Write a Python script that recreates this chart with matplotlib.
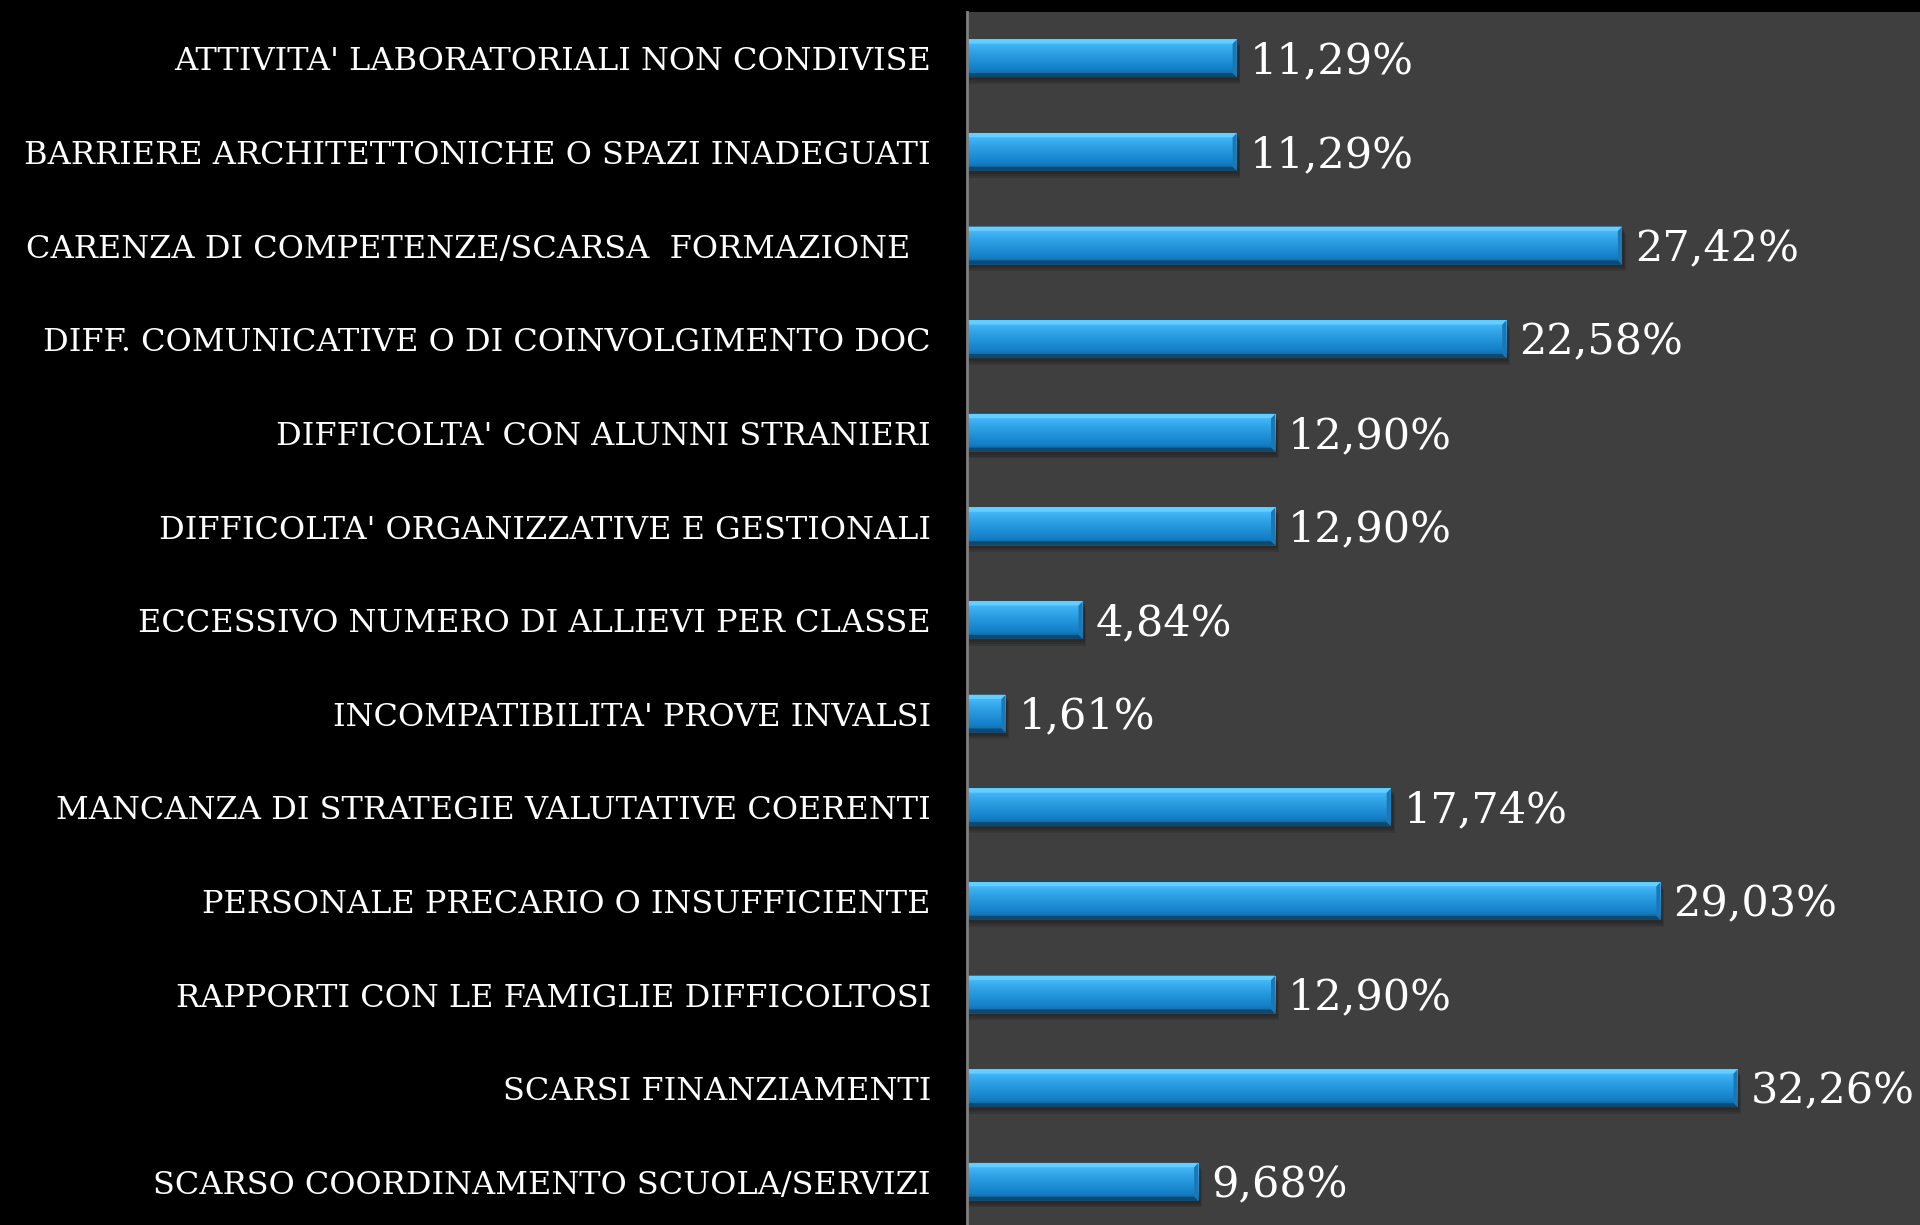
import matplotlib.pyplot as plt
import numpy as np
from matplotlib.colors import LinearSegmentedColormap

categories = [
    "ATTIVITA' LABORATORIALI NON CONDIVISE",
    "BARRIERE ARCHITETTONICHE O SPAZI INADEGUATI",
    "CARENZA DI COMPETENZE/SCARSA  FORMAZIONE  ",
    "DIFF. COMUNICATIVE O DI COINVOLGIMENTO DOC",
    "DIFFICOLTA' CON ALUNNI STRANIERI",
    "DIFFICOLTA' ORGANIZZATIVE E GESTIONALI",
    "ECCESSIVO NUMERO DI ALLIEVI PER CLASSE",
    "INCOMPATIBILITA' PROVE INVALSI",
    "MANCANZA DI STRATEGIE VALUTATIVE COERENTI",
    "PERSONALE PRECARIO O INSUFFICIENTE",
    "RAPPORTI CON LE FAMIGLIE DIFFICOLTOSI",
    "SCARSI FINANZIAMENTI",
    "SCARSO COORDINAMENTO SCUOLA/SERVIZI",
]
values = [11.29, 11.29, 27.42, 22.58, 12.90, 12.90, 4.84, 1.61, 17.74, 29.03, 12.90, 32.26, 9.68]
value_labels = ["11,29%", "11,29%", "27,42%", "22,58%", "12,90%", "12,90%", "4,84%",
                "1,61%", "17,74%", "29,03%", "12,90%", "32,26%", "9,68%"]

plt.rcParams['font.family'] = ['DejaVu Serif']

fig = plt.figure(figsize=(19.2, 12.25), dpi=100, facecolor='black')
ax = fig.add_axes([967 / 1920, 0, 1 - 967 / 1920, 1 - 12 / 1225])
ax.set_facecolor('#3f3f3f')

y = np.arange(len(categories))
bar_h = 0.406
bars = ax.barh(y, values, height=bar_h, color='#2b9de0', zorder=3)

# vertical gradient for the glossy look
grad = LinearSegmentedColormap.from_list(
    'bar', ['#5cc8ff', '#3cb0f2', '#2c9fe3', '#1f8fd6', '#1380c8', '#0c5f98'])
g = np.linspace(0, 1, 64).reshape(-1, 1)
dx = 0.17   # bevel width in x units
dy = 0.045  # bevel width in y units
for b in bars:
    x0, w = b.get_x(), b.get_width()
    y0, h = b.get_y(), b.get_height()
    # soft shadow
    for k in range(3):
        ax.add_patch(plt.Rectangle((x0, y0 + 0.03 + 0.02 * k), w + 0.08 + 0.04 * k, h,
                                   color='black', alpha=0.12, lw=0, zorder=2))
    im = ax.imshow(g, cmap=grad, aspect='auto', extent=(x0, x0 + w, y0 + h, y0),
                   zorder=4, interpolation='bicubic')
    im.set_clip_path(b)
    # right bevel
    ax.fill([x0 + w - dx, x0 + w, x0 + w, x0 + w - dx],
            [y0 + dy, y0, y0 + h, y0 + h - dy], color='#1a78b5', lw=0, zorder=5)
    # top highlight
    ax.fill([x0, x0 + w, x0 + w - dx, x0],
            [y0, y0, y0 + dy, y0 + dy], color='#66ceff', lw=0, zorder=5)
    # bottom dark edge
    ax.fill([x0, x0 + w - dx, x0 + w, x0],
            [y0 + h - dy, y0 + h - dy, y0 + h, y0 + h], color='#0a4a75', lw=0, zorder=5)

for yi, v, lab in zip(y, values, value_labels):
    ax.text(v + 0.55, yi + 0.16, lab, color='white', fontsize=31,
            va='baseline', ha='left', zorder=6)

ax.set_xlim(0, 39.9)
ax.set_ylim(12.46, -0.495)
ax.set_yticks(y)
ax.set_yticklabels(categories, color='white', fontsize=23)
ax.tick_params(axis='y', length=0, pad=26)
ax.set_xticks([])
for s in ['top', 'right', 'bottom']:
    ax.spines[s].set_visible(False)
ax.spines['left'].set_color('#808080')
ax.spines['left'].set_linewidth(2)
ax.spines['left'].set_zorder(7)

fig.savefig('out.png', dpi=100, facecolor='black')
